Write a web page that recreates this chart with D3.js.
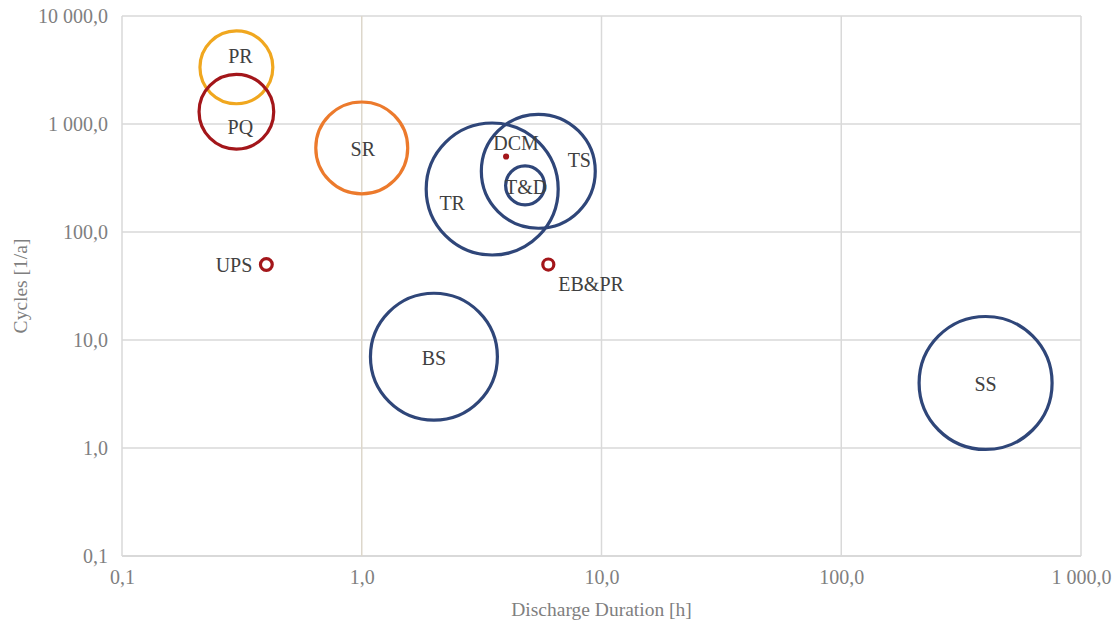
<!DOCTYPE html>
<html>
<head>
<meta charset="utf-8">
<script src="https://cdn.jsdelivr.net/npm/d3@7"></script>
<style>
  html, body { margin: 0; padding: 0; background: #fff; }
  svg { display: block; font-family: "Liberation Serif", "Times New Roman", serif; }
</style>
</head>
<body>
<svg id="chart" width="1116" height="622"></svg>
<script>
// Storage applications: discharge duration [h] vs. cycles per year, bubble size = relative scale
const names     = ["PR", "PQ", "SR", "UPS", "DCM", "T&D", "TR", "TS", "EB&PR", "BS", "SS"];
const duration  = [0.3, 0.3, 1.0, 0.4, 4.0, 4.8, 3.5, 5.45, 6.0, 2.0, 400];
const cycles    = [3350, 1300, 600, 50, 500, 270, 250, 365, 50, 7, 4];
const sizes     = [30.5, 32, 48.5, 0.8, 0.05, 8.7, 100, 74.5, 0.7, 92.5, 101.5];
const groups    = ["gold", "red", "orange", "red", "red", "blue", "blue", "blue", "red", "blue", "blue"];

const xTicks = [0.1, 1, 10, 100, 1000];
const yTicks = [0.1, 1, 10, 100, 1000, 10000];

// Label placement relative to each bubble centre (dx, dy in px, text-anchor)
const labelOffsets = {
  "PR":    [4, -11, "middle"],
  "PQ":    [4, 15, "middle"],
  "SR":    [1, 1, "middle"],
  "UPS":   [-14, 0, "end"],
  "DCM":   [10, -14, "middle"],
  "T&D":   [1, 2, "middle"],
  "TR":    [-40, 14, "middle"],
  "TS":    [41, -11, "middle"],
  "EB&PR": [10, 19, "start"],
  "BS":    [0, 1, "middle"],
  "SS":    [0, 1, "middle"]
};

const palette = { gold: "#F0A71F", red: "#A3161A", orange: "#EC7A2C", blue: "#2F4679" };
const serif = "'Liberation Serif', 'Times New Roman', serif";

const svg = d3.select("#chart");
const margin = { left: 122, right: 35, top: 16, bottom: 66 };
const W = 1116, H = 622;

const x = d3.scaleLog().domain([0.1, 1000]).range([margin.left, W - margin.right]);
const y = d3.scaleLog().domain([0.1, 10000]).range([H - margin.bottom, margin.top]);
const r = d3.scaleSqrt().domain([0, 100]).range([0, 66]);

const locale = d3.formatLocale({ decimal: ",", thousands: " ", grouping: [3], currency: ["", ""] });
const fmt = locale.format(",.1f");

// Gridlines
const grid = svg.append("g");
grid.selectAll("line.h").data(yTicks).join("line")
  .attr("x1", x(0.1)).attr("x2", x(1000))
  .attr("y1", d => y(d)).attr("y2", d => y(d))
  .attr("stroke", "#d9d9d9").attr("stroke-width", d => d === 0.1 ? 2 : 1.5);
grid.selectAll("line.v").data(xTicks).join("line")
  .attr("y1", y(0.1)).attr("y2", y(10000))
  .attr("x1", d => x(d)).attr("x2", d => x(d))
  .attr("stroke", d => d === 1 ? "#ddd7cb" : "#d9d9d9").attr("stroke-width", 1.5);

// Axes (tick labels only)
const xAxis = svg.append("g")
  .attr("transform", `translate(0,${y(0.1)})`)
  .call(d3.axisBottom(x).tickValues(xTicks).tickFormat(fmt).tickSize(0).tickPadding(14));
const yAxis = svg.append("g")
  .attr("transform", `translate(${x(0.1)},0)`)
  .call(d3.axisLeft(y).tickValues(yTicks).tickFormat(fmt).tickSize(0).tickPadding(14));
[xAxis, yAxis].forEach(a => {
  a.attr("font-family", null).attr("font-size", null);
  a.select(".domain").remove();
  a.selectAll("text").attr("fill", "#7f7f7f")
    .style("font-family", serif).style("font-size", "20px");
});

// Bubbles
const data = names.map((n, i) => ({ name: n, d: duration[i], c: cycles[i], s: sizes[i], g: groups[i] }));
svg.append("g").selectAll("circle").data(data).join("circle")
  .attr("cx", d => x(d.d)).attr("cy", d => y(d.c))
  .attr("r", d => r(d.s))
  .attr("fill", "none")
  .attr("stroke", d => palette[d.g])
  .attr("stroke-width", 3.2);

// Data labels
svg.append("g").selectAll("text").data(data).join("text")
  .attr("x", d => x(d.d) + labelOffsets[d.name][0])
  .attr("y", d => y(d.c) + labelOffsets[d.name][1])
  .attr("text-anchor", d => labelOffsets[d.name][2])
  .attr("dominant-baseline", "central")
  .attr("fill", "#404040")
  .style("font-size", "20px")
  .text(d => d.name);

// Axis titles
svg.append("text")
  .attr("x", (x(0.1) + x(1000)) / 2).attr("y", 609)
  .attr("text-anchor", "middle").attr("dominant-baseline", "central")
  .attr("fill", "#7f7f7f").style("font-size", "19.5px")
  .text("Discharge Duration [h]");
svg.append("text")
  .attr("transform", `translate(20,${(y(0.1) + y(10000)) / 2}) rotate(-90)`)
  .attr("text-anchor", "middle").attr("dominant-baseline", "central")
  .attr("fill", "#7f7f7f").style("font-size", "19.5px")
  .text("Cycles [1/a]");
</script>
</body>
</html>
